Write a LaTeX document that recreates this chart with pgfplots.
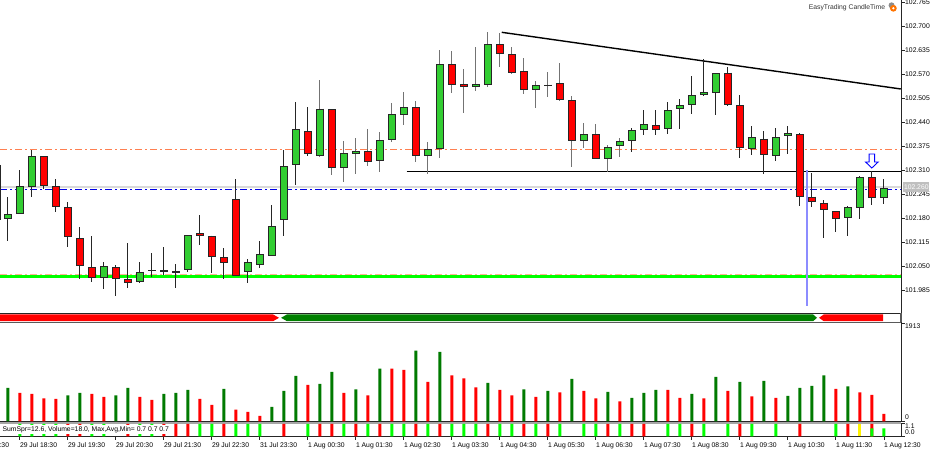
\documentclass[border=0pt]{standalone}
\usepackage{pgfplots}
\usepackage{pgfplotstable}
\usepackage{fontspec}
\pgfplotsset{compat=1.18}
\setmainfont{Liberation Sans}
\newcommand\fs{\fontsize{6.8}{8}\selectfont}
\definecolor{cgreen}{HTML}{32CD32}
\definecolor{dgreen}{HTML}{007A00}
\definecolor{coral}{HTML}{FF7F50}
\definecolor{linec}{HTML}{262626}
\pgfdeclareplotmark{dnarrow}{%
  \pgfpathmoveto{\pgfpoint{-2.8pt}{7pt}}
  \pgfpathlineto{\pgfpoint{2.8pt}{7pt}}
  \pgfpathlineto{\pgfpoint{2.8pt}{-1pt}}
  \pgfpathlineto{\pgfpoint{6.3pt}{-1pt}}
  \pgfpathlineto{\pgfpoint{0pt}{-7pt}}
  \pgfpathlineto{\pgfpoint{-6.3pt}{-1pt}}
  \pgfpathlineto{\pgfpoint{-2.8pt}{-1pt}}
  \pgfpathclose
  \pgfusepathqfillstroke}
% k top bottom high low (up candles)
\pgfplotstableread{
k t b h l
-0.93 102.3244 102.1757 102.3244 102.1757
0 102.1911 102.1792 102.2371 102.1198
1 102.2668 102.1911 102.3100 102.1911
2 102.3479 102.2641 102.3649 102.2387
8 102.0506 102.0181 102.0614 101.9884
11 102.0360 102.0073 102.0614 102.0046
12 102.0398 102.0379 102.0857 102.0225
14 102.0371 102.0333 102.0560 101.9927
15 102.1344 102.0398 102.1344 102.0343
20 102.0614 102.0343 102.0695 102.0062
21 102.0838 102.0533 102.1190 102.0452
22 102.1587 102.0784 102.2162 102.0784
23 102.3208 102.1749 102.3649 102.1325
24 102.4208 102.3235 102.4938 102.2695
26 102.4765 102.3487 102.5541 102.3452
28 102.3568 102.3171 102.3884 102.2792
29 102.3614 102.3549 102.3965 102.3000
31 102.3911 102.3344 102.4135 102.3062
32 102.4614 102.3911 102.4927 102.3873
33 102.4803 102.4603 102.5217 102.4333
35 102.3668 102.3487 102.3865 102.3000
36 102.5973 102.3668 102.6344 102.3441
39 102.5433 102.5344 102.6425 102.5252
40 102.6506 102.5414 102.6830 102.5344
44 102.5398 102.5271 102.5506 102.4792
45 102.5417 102.5395 102.5749 102.5081
48 102.4073 102.3900 102.4387 102.3703
50 102.3730 102.3398 102.3776 102.3062
51 102.3892 102.3744 102.3981 102.3468
52 102.4181 102.3892 102.4235 102.3587
53 102.4344 102.4181 102.4730 102.4054
55 102.4722 102.4217 102.4946 102.4089
56 102.4857 102.4765 102.5019 102.4217
57 102.5127 102.4857 102.5657 102.4614
58 102.5208 102.5127 102.6100 102.5108
59 102.5722 102.5189 102.5722 102.4595
62 102.3992 102.3668 102.4289 102.3514
64 102.3992 102.3495 102.4235 102.3360
65 102.4100 102.4019 102.4289 102.3541
70 102.2100 102.1803 102.2144 102.1325
71 102.2911 102.2073 102.2946 102.1792
73 102.2614 102.2360 102.2857 102.2189
}\upc
% k top bottom high low (down candles)
\pgfplotstableread{
k t b h l
3 102.3479 102.2668 102.3479 102.2603
4 102.2668 102.2100 102.2857 102.1981
5 102.2100 102.1290 102.2244 102.1019
6 102.1262 102.0506 102.1576 102.0171
7 102.0479 102.0181 102.1316 102.0090
9 102.0479 102.0154 102.0533 101.9711
10 102.0154 102.0054 102.1127 101.9927
13 102.0398 102.0360 102.1027 102.0262
16 102.1398 102.1325 102.1900 102.1081
17 102.1325 102.0749 102.1325 102.0325
18 102.0749 102.0603 102.0992 102.0171
19 102.2316 102.0235 102.2857 102.0235
25 102.4154 102.3533 102.4803 102.3479
27 102.4749 102.3171 102.4749 102.2981
30 102.3614 102.3325 102.4225 102.3225
34 102.4803 102.3479 102.4973 102.3325
37 102.5965 102.5414 102.6317 102.5181
38 102.5433 102.5360 102.5830 102.4641
41 102.6506 102.6244 102.6803 102.5892
42 102.6235 102.5738 102.6425 102.5695
43 102.5776 102.5271 102.6127 102.5162
46 102.5452 102.5000 102.5992 102.4965
47 102.4992 102.3900 102.5108 102.3198
49 102.4073 102.3398 102.4352 102.3398
54 102.4317 102.4198 102.4730 102.4054
60 102.5738 102.4873 102.5884 102.4830
61 102.4865 102.3695 102.5135 102.3441
63 102.3954 102.3506 102.4154 102.3000
66 102.4073 102.2379 102.4100 102.2127
67 102.2387 102.2235 102.3019 102.2108
68 102.2225 102.2019 102.2298 102.1279
69 102.1992 102.1776 102.1992 102.1425
72 102.2919 102.2360 102.3081 102.2171
}\downc
% volume bars
\pgfplotstableread{
k v
0 650
5 507
6 553
9 507
10 650
13 533
14 553
15 611
18 631
22 280
23 592
24 884
26 728
27 962
29 624
31 1027
34 1378
36 1352
40 748
43 624
45 592
47 826
50 572
52 455
53 553
54 611
57 533
59 865
61 767
63 787
65 494
66 650
67 689
68 897
70 683
}\volup
\pgfplotstableread{
k v
1 553
2 533
3 449
4 436
7 533
8 475
11 475
12 416
16 436
17 319
19 228
20 182
21 104
25 709
28 553
30 507
32 1027
33 1001
35 767
37 897
38 839
39 663
41 611
42 507
44 475
46 566
48 592
49 449
51 390
55 611
56 455
58 449
60 592
62 488
64 455
69 631
71 566
72 514
73 143
}\voldn
\pgfplotsset{
  pane/.style={
    scale only axis, width=901pt, xmin=-0.65, xmax=74.43,
    clip mode=individual,
    axis line style={linec, line width=0.9pt},
    tick style={linec, line width=0.7pt},
    tickwidth=3.5pt,
    tick align=outside,
    ticklabel style={font=\fs, text=black, inner sep=0pt},
  },
  ebar/.style={only marks, mark=*, mark size=0pt, mark options={draw=none, fill=none}, forget plot,
    error bars/.cd, y dir=both, y explicit, error mark=none,
    error bar style={#1}},
  wick/.style={ebar={line width=1pt, color=black!85}},
  wickg/.style={ebar={line width=1.2pt, color=black!55}},
  outer/.style={ebar={line width=8pt, color=black!85}},
  inner/.style={ebar={line width=6pt, color=#1}},
  ln/.style={mark=none, forget plot},
  dd/.style={dash pattern=on 7pt off 3pt on 2pt off 3pt},
  bb/.style={forget plot, ybar, bar width=3pt, bar shift=0pt, fill=#1, draw=none},
}
\newcommand\inmid{(\thisrow{k}>=26 && \thisrow{k}<=51)}
\begin{document}
\begin{tikzpicture}[x=1pt,y=1pt]
\clip[use as bounding box] (0,0) rectangle (940,451);
% main price pane
\begin{axis}[pane, at={(0pt,137.7pt)}, anchor=south west, height=313.3pt,
  ymin=101.9235, ymax=102.7703,
  axis x line*=bottom, axis y line*=right, xtick=\empty,
  ytick={102.765,102.700,102.635,102.570,102.505,102.440,102.375,102.310,102.245,102.180,102.115,102.050,101.985},
  yticklabels={102.765,102.700,102.635,102.570,102.505,102.440,102.375,102.310,102.245,102.180,102.115,102.050,101.985},
  yticklabel style={anchor=west, xshift=0.5pt},
]
\addplot[ln, coral, line width=0.8pt, dd] coordinates {(-0.65,102.3676)(74.43,102.3676)};
\addplot[ln, black!15, line width=2.6pt] coordinates {(-0.65,102.2649)(74.43,102.2649)};
\addplot[ln, blue!90!black, line width=0.9pt, dd] coordinates {(-0.65,102.2587)(74.43,102.2587)};
\addplot[ln, coral!60!white, line width=0.5pt, dd] coordinates {(-0.65,102.0280)(74.43,102.0280)};
\addplot[ln, green, line width=3pt] coordinates {(-0.65,102.0232)(74.43,102.0232)};
\addplot[ln, black, line width=1pt] coordinates {(33.24,102.3081)(74.43,102.3081)};
\addplot[ln, black, line width=1.4pt] coordinates {(41.16,102.6830)(74.41,102.5298)};
\addplot[ln, blue!45!white, line width=1.4pt] coordinates {(66.6,102.3100)(66.6,101.9433)};
\addplot[wick] table[x expr={\inmid ? nan : \thisrow{k}}, y=t, y error plus expr=\thisrow{h}-\thisrow{t}, y error minus expr=\thisrow{t}-\thisrow{l}] {\upc};
\addplot[wick] table[x expr={\inmid ? nan : \thisrow{k}}, y=t, y error plus expr=\thisrow{h}-\thisrow{t}, y error minus expr=\thisrow{t}-\thisrow{l}] {\downc};
\addplot[wickg] table[x expr={\inmid ? \thisrow{k} : nan}, y=t, y error plus expr=\thisrow{h}-\thisrow{t}, y error minus expr=\thisrow{t}-\thisrow{l}] {\upc};
\addplot[wickg] table[x expr={\inmid ? \thisrow{k} : nan}, y=t, y error plus expr=\thisrow{h}-\thisrow{t}, y error minus expr=\thisrow{t}-\thisrow{l}] {\downc};
\addplot[outer] table[x=k, y=t, y error plus expr=0, y error minus expr=\thisrow{t}-\thisrow{b}] {\upc};
\addplot[outer] table[x=k, y=t, y error plus expr=0, y error minus expr=\thisrow{t}-\thisrow{b}] {\downc};
\addplot[inner=cgreen] table[x=k, y expr=\thisrow{t}-0.0027, y error plus expr=0, y error minus expr={max(\thisrow{t}-\thisrow{b}-0.0054,0)}] {\upc};
\addplot[inner=red] table[x=k, y expr=\thisrow{t}-0.0027, y error plus expr=0, y error minus expr={max(\thisrow{t}-\thisrow{b}-0.0054,0)}] {\downc};
\addplot[forget plot, only marks, mark=dnarrow, mark options={draw=blue, fill=white, line width=0.9pt}] coordinates {(72,102.3352)};
\node[anchor=east, inner sep=0pt, font=\fs, text=black!80] at (axis description cs:0.9825,0.9745) {EasyTrading CandleTime};
\fill[black!45] (axis description cs:0.9895,0.9830) circle (3pt);
\fill[orange!90!red] (axis description cs:0.9915,0.9735) circle (3.4pt);
\fill[white] (axis description cs:0.9915,0.9735) circle (1.3pt);
\node[anchor=west, inner sep=0.8pt, fill=black!25, text=white, font=\fs, xshift=2pt, minimum height=9.5pt] at (axis cs:74.43,102.2649) {102.260};
\end{axis}
% direction strip
\begin{axis}[pane, at={(0pt,128.7pt)}, anchor=south west, height=9pt,
  ymin=0, ymax=1, axis x line*=bottom, axis y line*=right, xtick=\empty, ytick=\empty,
  axis line style={black!65, line width=1.2pt}]
\addplot[forget plot, fill=red, draw=none] coordinates {(-0.65,0.12)(22.1,0.12)(22.6,0.5)(22.1,0.88)(-0.65,0.88)} --cycle;
\addplot[forget plot, fill=green!50!black, draw=none] coordinates {(22.77,0.5)(23.27,0.12)(67.1,0.12)(67.43,0.5)(67.1,0.88)(23.27,0.88)} --cycle;
\addplot[forget plot, fill=red, draw=none] coordinates {(67.6,0.5)(68.0,0.12)(72.93,0.12)(72.93,0.88)(68.0,0.88)} --cycle;
\end{axis}
% volume pane
\begin{axis}[pane, at={(0pt,29.7pt)}, anchor=south west, height=99pt,
  ymin=0, ymax=1930.5, axis x line*=bottom, axis y line*=right, xtick=\empty,
  ytick={0,1913}, yticklabels={,}]
\addplot[bb=dgreen] table[x=k,y=v] {\volup};
\addplot[bb=red] table[x=k,y=v] {\voldn};
\node[anchor=west, inner sep=0pt, font=\fs, xshift=4pt] at (axis cs:74.43,1853) {1913};
\node[anchor=west, inner sep=0pt, font=\fs, xshift=4pt] at (axis cs:74.43,78) {0};
\end{axis}
\fill[black!35] (0,26.9) rectangle (901,29.2);
% signal pane
\begin{axis}[pane, at={(0pt,14.7pt)}, anchor=south west, height=12.5pt,
  ymin=0, ymax=1.1, axis x line*=bottom, axis y line*=right,
  xtick={1,5,9,13,17,21,25,29,33,37,41,45,49,53,57,61,65,69,73},
  xticklabels={29 Jul 18:30,29 Jul 19:30,29 Jul 20:30,29 Jul 21:30,29 Jul 22:30,31 Jul 23:30,1 Aug 00:30,1 Aug 01:30,1 Aug 02:30,1 Aug 03:30,1 Aug 04:30,1 Aug 05:30,1 Aug 06:30,1 Aug 07:30,1 Aug 08:30,1 Aug 09:30,1 Aug 10:30,1 Aug 11:30,1 Aug 12:30},
  xticklabel style={anchor=north west, xshift=0pt, yshift=-2.6pt},
  ytick={0,1.1}, yticklabels={,}]
\addplot[bb=green] coordinates {(1,1.1)(2,1.1)(3,1.1)(4,1.1)(7,1.1)(8,1.1)(11,1.1)(12,1.1)(16,1.1)(17,1.1)(19,1.1)(20,1.1)(21,1.1)(25,1.1)(28,1.1)(30,1.1)(32,1.1)(33,1.1)(35,1.1)(37,1.1)(38,1.1)(39,1.1)(41,1.1)(42,1.1)(44,1.1)(46,1.1)(48,1.1)(49,1.1)(51,1.1)(55,1.1)(56,1.1)(58,1.1)(60,1.1)(62,1.1)(64,1.1)(69,1.1)};
\addplot[bb=red] coordinates {(5,1.1)(6,1.1)(10,1.1)(13,1.1)(14,1.1)(15,1.1)(18,1.1)(23,1.1)(26,1.1)(27,1.1)(29,1.1)(31,1.1)(34,1.1)(36,1.1)(40,1.1)(43,1.1)(45,1.1)(50,1.1)(52,1.1)(53,1.1)(57,1.1)(61,1.1)(66,1.1)(70,1.1)(72,1.1)};
\addplot[bb=yellow] coordinates {(71,1.1)};
\addplot[bb=green] coordinates {(72,0.7)(73,0.7)};
\node[anchor=west, inner sep=1pt, fill=white, font=\fs, minimum height=8.6pt] at (axis description cs:0.0015,0.55) {SumSpr=12.6, Volume=18.0, Max,Avg,Min= 0.7 0.7 0.7};
\node[anchor=north west, inner sep=0pt, font=\fs, yshift=-5.6pt] at (axis cs:-3,0) {29 Jul 17:30};
\node[anchor=west, inner sep=0pt, font=\fs, xshift=4pt] at (axis cs:74.43,0.9) {1.1};
\node[anchor=west, inner sep=0pt, font=\fs, xshift=4pt] at (axis cs:74.43,0.38) {0.0};
\end{axis}
\end{tikzpicture}
\end{document}
